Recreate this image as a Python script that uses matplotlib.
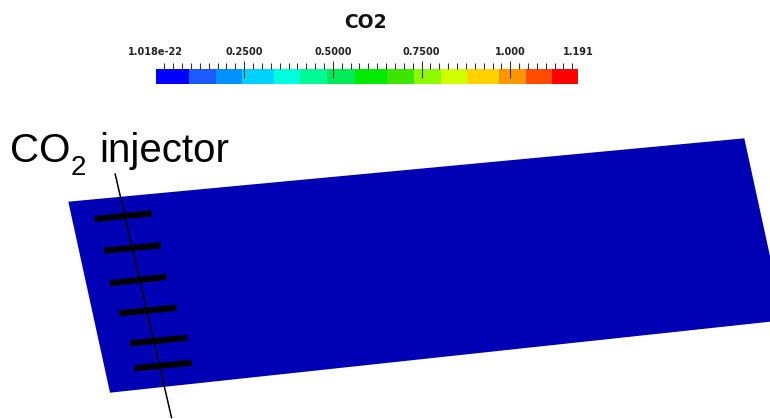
import matplotlib
matplotlib.use("Agg")
import matplotlib.pyplot as plt
import numpy as np
from matplotlib.colors import ListedColormap, BoundaryNorm
from matplotlib.cm import ScalarMappable
from matplotlib.patches import Polygon

# ---- colour scale for the CO2 field ----
co2_levels = [0.0, 0.0953, 0.1706, 0.2447, 0.335, 0.408, 0.4835, 0.5625,
              0.6535, 0.7297, 0.804, 0.878, 0.969, 1.045, 1.117, 1.191]
co2_colors = ['#0000ff', '#1a5aff', '#0092ff', '#00d2ff', '#00ffdc',
              '#00fa96', '#00eb5a', '#00eb00', '#3ce600', '#8cfa00',
              '#d2ff00', '#ffd200', '#ff9600', '#ff4b00', '#ff0000']
tick_values = [0.0, 0.25, 0.5, 0.75, 1.0, 1.191]
tick_labels = ["1.018e-22", "0.2500", "0.5000", "0.7500", "1.000", "1.191"]
long_tick_values = [0.25, 0.5, 0.75, 1.0]
minor_step = 0.025

# ---- rendered scene (screen units) ----
domain_x = [68.3, 744.3, 784.0, 110.0]
domain_y = [201.7, 138.3, 320.2, 392.7]
domain_color = '#0000b4'

well_x = [115.0, 171.7]
well_y = [173.3, 418.3]

perf_x0 = [95.0, 104.0, 110.0, 119.3, 130.0, 134.0]
perf_y0 = [219.0, 250.7, 283.3, 313.3, 343.3, 368.3]
perf_x1 = [151.7, 160.7, 166.7, 176.7, 187.3, 191.7]
perf_y1 = [213.3, 245.3, 276.7, 307.7, 337.7, 362.7]

W, H = 770, 419
fig = plt.figure(figsize=(W / 100, H / 100), dpi=100)
fig.patch.set_facecolor('white')

ax = fig.add_axes([0, 0, 1, 1])
ax.set_xlim(0, W)
ax.set_ylim(H, 0)
ax.axis('off')

ax.add_patch(Polygon(np.column_stack([domain_x, domain_y]), closed=True,
                     facecolor=domain_color, edgecolor='none'))
ax.plot(well_x, well_y, color='black', lw=1.1, solid_capstyle='butt')
for x0, y0, x1, y1 in zip(perf_x0, perf_y0, perf_x1, perf_y1):
    ax.plot([x0, x1], [y0, y1], color='black', lw=4.4, solid_capstyle='butt')

# well label: CO₂ injector (subscript set as its own smaller, lowered run)
label_font = dict(family='Liberation Sans', color='black', ha='left',
                  va='baseline')
ax.text(9.8, 162.3, "CO", fontsize=29, **label_font)
ax.text(70.5, 175.0, "2", fontsize=20, **label_font)
ax.text(99.0, 162.3, "injector", fontsize=29, **label_font)

ax.text(365.5, 28, "CO2", family='DejaVu Sans', fontweight='bold',
        fontsize=13.5, color='#111111', ha='center', va='baseline')

# ---- colour bar ----
cax = fig.add_axes([155.5 / W, 1 - 84 / H, (578 - 155.5) / W, 15.3 / H])
cmap = ListedColormap(co2_colors)
norm = BoundaryNorm(co2_levels, cmap.N)
cb = fig.colorbar(ScalarMappable(norm=norm, cmap=cmap), cax=cax,
                  orientation='horizontal', spacing='proportional')
cb.outline.set_visible(False)
cax.xaxis.set_ticks_position('top')
cax.xaxis.set_label_position('top')
cax.set_xticks(tick_values)
cax.set_xticklabels(tick_labels)
minor = list(np.arange(0, 1.191, minor_step)) + [1.191]
cax.set_xticks(minor, minor=True)
cax.tick_params(axis='x', which='major', length=0, pad=8.5,
                labelsize=7, labelcolor='#222222')
cax.tick_params(axis='x', which='minor', length=4.6, width=0.8,
                color='#333333', direction='out')
for lbl in cax.get_xticklabels():
    lbl.set_fontweight('bold')
cax.vlines(long_tick_values, 0.42, 1.48, transform=cax.get_xaxis_transform(),
           color='#333333', lw=0.8, clip_on=False)

fig.savefig('out.png', dpi=100, facecolor='white')
